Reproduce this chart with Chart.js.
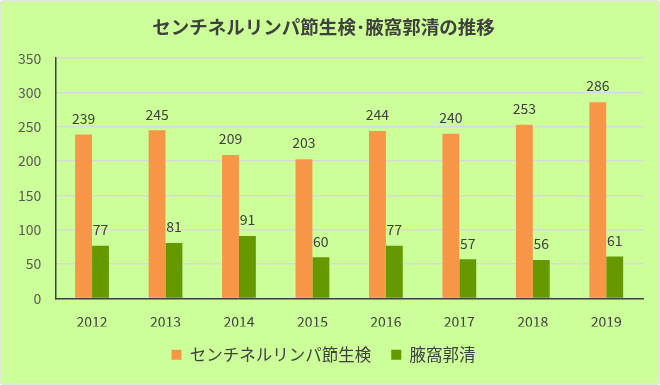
<!DOCTYPE html>
<html>
<head>
<meta charset="utf-8">
<script src="https://cdn.jsdelivr.net/npm/chart.js@4.4.1/dist/chart.umd.min.js"></script>
<style>
  html, body { margin: 0; padding: 0; background: #fff; }
  #wrap {
    width: 656px; height: 381px;
    background: #ccff99;
    border: 2px solid #dfe8d6;
    border-radius: 3px;
  }
  #chart { display: block; }
</style>
</head>
<body>
<div id="wrap"><canvas id="chart" width="656" height="381"></canvas></div>
<script>
const years = ["2012","2013","2014","2015","2016","2017","2018","2019"];
const sentinel = [239, 245, 209, 203, 244, 240, 253, 286];
const axillary = [77, 81, 91, 60, 77, 57, 56, 61];
const yTicks = [0, 50, 100, 150, 200, 250, 300, 350];

const FONT = "'Noto Sans CJK JP', 'Noto Sans', sans-serif";

/* ===== value labels above bars ===== */
const valueLabels = {
  id: "valueLabels",
  afterDatasetsDraw(chart) {
    const ctx = chart.ctx;
    ctx.save();
    ctx.font = "14px " + FONT;
    ctx.fillStyle = "#404040";
    ctx.textAlign = "center";
    ctx.textBaseline = "bottom";
    chart.data.datasets.forEach((ds, i) => {
      chart.getDatasetMeta(i).data.forEach((bar, j) => {
        ctx.fillText(ds.data[j], bar.x, bar.y - 9);
      });
    });
    ctx.restore();
  }
};

new Chart(document.getElementById("chart"), {
  type: "bar",
  data: {
    labels: years,
    datasets: [
      {
        label: "センチネルリンパ節生検",
        data: sentinel,
        backgroundColor: "#f79646",
        categoryPercentage: 0.46,
        barPercentage: 1
      },
      {
        label: "腋窩郭清",
        data: axillary,
        backgroundColor: "#669900",
        categoryPercentage: 0.46,
        barPercentage: 1
      }
    ]
  },
  options: {
    responsive: false,
    animation: false,
    layout: { padding: { left: 2, right: 15, top: 4, bottom: 10 } },
    plugins: {
      title: {
        display: true,
        text: "センチネルリンパ節生検･腋窩郭清の推移",
        color: "#404040",
        font: { family: FONT, size: 18.5, weight: "bold" },
        padding: { top: 10, bottom: 20 }
      },
      legend: {
        position: "bottom",
        labels: {
          color: "#404040",
          font: { family: FONT, size: 16.5 },
          boxWidth: 10,
          boxHeight: 10,
          padding: 20
        }
      },
      tooltip: { enabled: false }
    },
    scales: {
      x: {
        grid: { display: false, drawTicks: false },
        border: { color: "#404040", width: 1.5 },
        ticks: { color: "#404040", font: { family: FONT, size: 14 }, padding: 15 },
        afterFit: axis => { axis.height = 28; }
      },
      y: {
        min: 0,
        max: 350,
        afterBuildTicks: axis => { axis.ticks = yTicks.map(v => ({ value: v })); },
        grid: { color: "#d9d9d9", lineWidth: 1.5, drawTicks: false },
        border: { color: "#404040", width: 1.5 },
        ticks: { color: "#595959", font: { family: FONT, size: 14 }, padding: 14 }
      }
    }
  },
  plugins: [valueLabels]
});
</script>
</body>
</html>
